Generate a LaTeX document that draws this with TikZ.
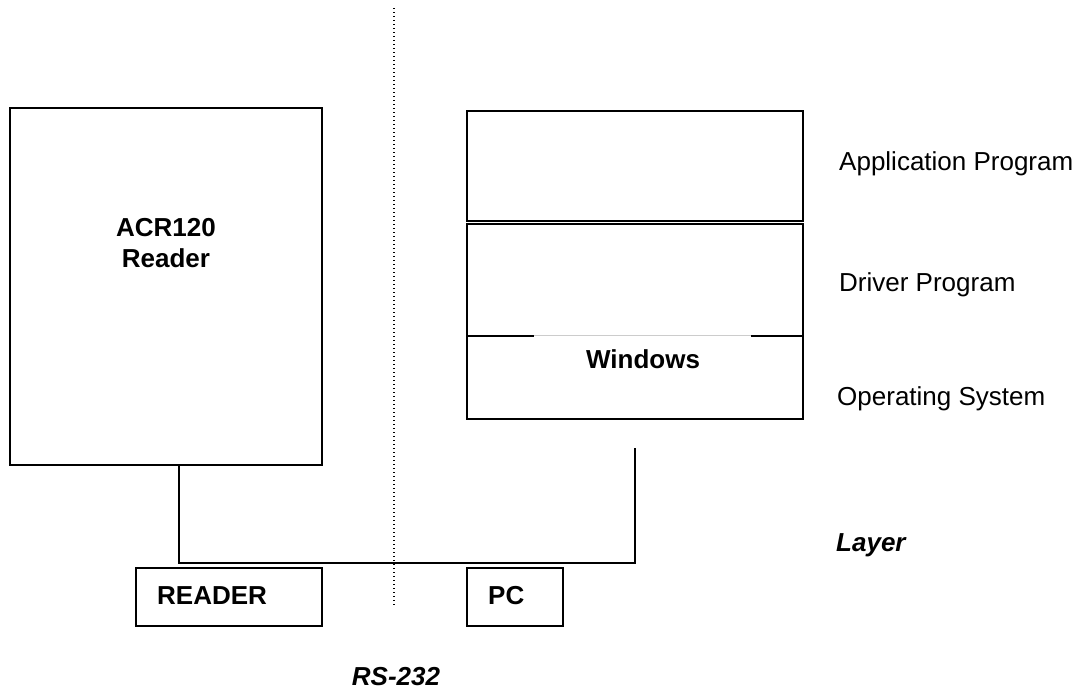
\documentclass[tikz,border=0pt]{standalone}
\usepackage{fontspec}
\setmainfont{Liberation Sans}
\tikzset{
	layerbox/.style={draw,line width=1.6pt,rectangle,inner sep=0pt},
	label/.style={font=\fontsize{26}{30}\selectfont,inner sep=0pt},
	boldlabel/.style={font=\fontsize{26}{30}\selectfont\bfseries,inner sep=0pt,align=center},
}
\begin{document}
\begin{tikzpicture}[x=1pt,y=-1pt]
\useasboundingbox[fill=white] (0,0) rectangle (1085,691);
% reader side
\node[layerbox,minimum width=312pt,minimum height=357pt] (acr) at (166,286.5) {};
\node[boldlabel] (acrtext) at (166,243) {ACR120\\[1pt]Reader};
\node[layerbox,minimum width=186pt,minimum height=58pt] (readerbox) at (229,597) {};
\node[boldlabel,anchor=west] (readertext) at (157,596) {READER};
% pc side
\node[layerbox,minimum width=336pt,minimum height=110pt] (app) at (635,166) {};
\node[layerbox,minimum width=336pt,minimum height=112pt] (drv) at (635,280) {};
\node[layerbox,minimum width=336pt,minimum height=83pt] (os) at (635,377.5) {};
\draw[white,line width=2.4pt] (534,336) -- (751,336);
\draw[black!20,line width=0.8pt] (534,335) -- (751,335);
\node[boldlabel] (wintext) at (643,359) {Windows};
\node[layerbox,minimum width=96pt,minimum height=58pt] (pcbox) at (515,597) {};
\node[boldlabel,anchor=west] (pctext) at (488,596) {PC};
% layer names
\node[label,anchor=west] (applabel) at (839,164) {Application Program};
\node[label,anchor=west] (drvlabel) at (839,285) {Driver Program};
\node[label,anchor=west] (oslabel) at (837,399) {Operating System};
\node[label,anchor=west,font=\fontsize{26}{30}\selectfont\bfseries\itshape] (layerlabel) at (836,545) {Layer};
\node[label,font=\fontsize{26}{30}\selectfont\bfseries\itshape] (rslabel) at (396,677) {RS-232};
% cable and divider
\coordinate (bus) at (635,563);
\coordinate (pcend) at (635,448);
\draw[line width=1.6pt] ([xshift=13pt]acr.south) |- (bus) -- (pcend);
\coordinate (divtop) at (394,8);
\coordinate (divbot) at (394,607);
\draw[line width=1.2pt,dash pattern=on 1.2pt off 2.8pt] (divtop) -- (divbot);
\end{tikzpicture}
\end{document}
